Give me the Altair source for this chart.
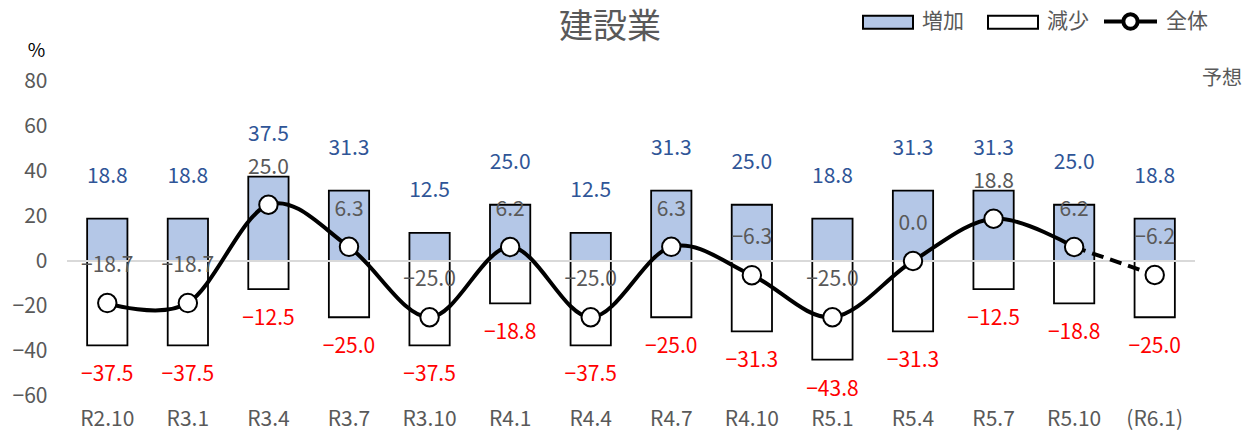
import altair as alt
import pandas as pd

categories = ["R2.10", "R3.1", "R3.4", "R3.7", "R3.10", "R4.1", "R4.4",
              "R4.7", "R4.10", "R5.1", "R5.4", "R5.7", "R5.10", "(R6.1)"]
increase = [18.8, 18.8, 37.5, 31.3, 12.5, 25.0, 12.5, 31.3, 25.0, 18.8, 31.3, 31.3, 25.0, 18.8]
decrease = [-37.5, -37.5, -12.5, -25.0, -37.5, -18.8, -37.5, -25.0, -31.3, -43.8, -31.3, -12.5, -18.8, -25.0]
overall = [-18.7, -18.7, 25.0, 6.3, -25.0, 6.2, -25.0, 6.3, -6.3, -25.0, 0.0, 18.8, 6.2, -6.2]
forecast_from = 12  # index of last actual point; the segment after it is a forecast

FONT = "Noto Sans CJK JP"
GRAY = "#595959"

bars_df = pd.DataFrame({
    "cat": categories * 2,
    "series": ["増加"] * len(categories) + ["減少"] * len(categories),
    "value": increase + decrease,
})
line_df = pd.DataFrame({"cat": categories, "value": overall, "series": "全体",
                        "idx": list(range(len(categories)))})

x = alt.X("cat:N", sort=categories,
          scale=alt.Scale(paddingInner=0, paddingOuter=0),
          axis=alt.Axis(title=None, labelAngle=0, domain=False, ticks=False,
                        labelFont=FONT, labelFontSize=21, labelColor=GRAY,
                        labelPadding=12))
y = alt.Y("value:Q", scale=alt.Scale(domain=[-60, 80], nice=False, zero=True),
          axis=alt.Axis(values=list(range(-60, 81, 20)), grid=False, domain=False,
                        ticks=False, labelFont=FONT, labelFontSize=21,
                        labelColor=GRAY, labelPadding=20,
                        title="%", titleAngle=0, titleX=-31, titleY=-31,
                        titleAlign="center", titleBaseline="middle",
                        titleFont=FONT, titleFontSize=19, titleColor="black",
                        titleFontWeight="normal"))

bars = alt.Chart(bars_df).mark_bar(
    stroke="black", strokeWidth=1.8, width=alt.RelativeBandSize(0.5)
).encode(
    x=x, y=y,
    fill=alt.Fill("series:N",
                  scale=alt.Scale(domain=["増加", "減少"], range=["#B4C7E7", "#FFFFFF"]),
                  legend=alt.Legend(title=None, orient="none", legendX=795, legendY=-85,
                                    direction="horizontal", padding=0,
                                    symbolType="M-1,-0.26H1V0.26H-1Z", symbolSize=2500,
                                    symbolStrokeColor="black", symbolStrokeWidth=2,
                                    symbolOpacity=1,
                                    labelFont=FONT, labelFontSize=21, labelColor=GRAY,
                                    labelOffset=8, columnPadding=20)),
)

zero = alt.Chart(pd.DataFrame({"v": [0]})).mark_rule(
    color="#D9D9D9", strokeWidth=2
).encode(y="v:Q")

solid = alt.Chart(line_df).transform_filter(
    alt.datum.idx <= forecast_from
).mark_line(strokeWidth=4, interpolate="cardinal").encode(
    x=x, y=y,
    stroke=alt.Stroke("series:N",
                      scale=alt.Scale(domain=["全体"], range=["black"]),
                      legend=alt.Legend(title=None, orient="none", legendX=1035, legendY=-88,
                                        padding=0,
                                        symbolType="M-1,0H-0.27M0.27,0H1M0.27,0A0.27,0.27,0,1,1,-0.27,0A0.27,0.27,0,1,1,0.27,0Z",
                                        symbolSize=2809, symbolStrokeWidth=4,
                                        symbolFillColor="white", symbolOpacity=1,
                                        labelFont=FONT, labelFontSize=21, labelColor=GRAY,
                                        labelOffset=7)),
)

dashed = alt.Chart(line_df).transform_filter(
    alt.datum.idx >= forecast_from
).mark_line(strokeWidth=4, color="black", strokeDash=[12, 7]).encode(x=x, y=y)

points = alt.Chart(line_df).mark_point(
    shape="circle", filled=True, fill="white", stroke="black",
    strokeWidth=2, size=340, opacity=1
).encode(x=x, y=y)

inc_labels = alt.Chart(bars_df).transform_filter(
    alt.datum.series == "増加"
).mark_text(dy=-42, color="#2F5597", font=FONT, fontSize=21).encode(
    x=x, y=y, text=alt.Text("value:Q", format=".1f"))

dec_labels = alt.Chart(bars_df).transform_filter(
    alt.datum.series == "減少"
).mark_text(dy=30, color="#FF0000", font=FONT, fontSize=21).encode(
    x=x, y=y, text=alt.Text("value:Q", format=".1f"))

all_labels = alt.Chart(line_df).mark_text(
    dy=-37, color=GRAY, font=FONT, fontSize=21
).encode(x=x, y=y, text=alt.Text("value:Q", format=".1f"))

note = alt.Chart(pd.DataFrame({"t": ["予想"]})).mark_text(
    font=FONT, fontSize=20, color=GRAY
).encode(x=alt.value(1155), y=alt.value(-2), text="t:N")

title = alt.Chart(pd.DataFrame({"t": ["建設業"]})).mark_text(
    font=FONT, fontSize=34, color=GRAY, baseline="middle"
).encode(x=alt.value(543), y=alt.value(-53), text="t:N")

chart = alt.layer(
    bars, zero, solid, dashed, points, inc_labels, dec_labels, all_labels, note, title
).properties(
    width=1128, height=315,
    autosize=alt.AutoSizeParams(type="none"),
    padding={"left": 67, "top": 81, "right": 58, "bottom": 45},
).configure_view(stroke=None)

chart.save("out.html", embed_options={"renderer": "svg", "actions": False})
